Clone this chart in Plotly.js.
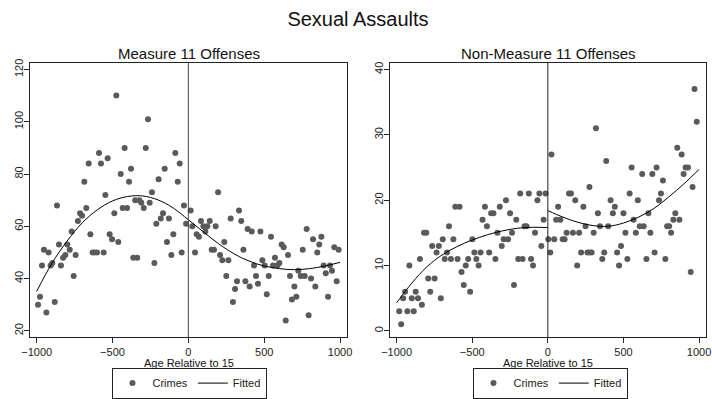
<!DOCTYPE html>
<html>
<head>
<meta charset="utf-8">
<script src="https://cdn.plot.ly/plotly-3.0.1.min.js"></script>
<style>html,body{margin:0;padding:0;background:#fff;}#chart{width:712px;height:399px;}</style>
</head>
<body>
<div id="chart"></div>
<script>
// ---- Measure 11 Offenses: binned crime counts ----
const m11X = [-991,-978,-965,-952,-936,-921,-908,-897,-881,-866,-853,-840,-826,-811,-798,-782,-769,-756,-743,-728,-714,-701,-686,-673,-657,-646,-631,-618,-602,-589,-576,-558,-547,-532,-519,-503,-488,-475,-462,-446,-433,-420,-404,-391,-378,-363,-350,-337,-323,-310,-294,-281,-266,-255,-240,-224,-211,-196,-182,-167,-156,-141,-128,-112,-99,-86,-70,-57,-44,-29,-15,
  15,26,44,55,70,83,99,112,125,141,154,169,180,196,209,224,237,250,264,279,294,308,321,334,349,363,376,391,404,418,433,446,459,475,488,503,517,530,545,558,571,587,600,615,629,642,657,670,683,699,712,725,741,754,767,780,793,809,822,837,850,863,877,892,906,921,934,947,962,978,991];
const m11Y = [30,33,45,51,27,50,45,46,31,68,53,45,48,49,53,51,58,41,49,62,65,64,77,67,84,57,50,50,50,88,84,50,72,86,57,55,65,110,54,80,67,90,67,77,82,48,70,48,70,69,67,90,101,69,73,46,61,78,63,65,82,54,63,49,57,88,77,84,50,68,61,
  66,60,50,57,56,62,60,58,60,62,51,51,60,73,49,47,54,41,47,63,31,36,39,66,62,51,39,59,37,58,45,41,38,58,47,45,34,41,56,45,48,45,46,53,52,24,49,41,32,37,33,43,41,51,41,59,26,40,55,37,50,53,56,45,42,33,45,43,52,39,51];
const m11FitX = [-1000,-900,-800,-700,-600,-500,-400,-300,-200,-100,0,100,200,300,400,500,600,700,800,900,1000];
const m11FitY = [35.1,45.8,54.3,61.3,66.3,69.7,71.4,71.6,70.1,67.0,62.5,57.8,53.3,49.5,46.7,44.8,43.8,43.4,43.8,44.8,46.2];

// ---- Non-Measure 11 Offenses ----
const nm11X = [-983,-970,-957,-944,-929,-916,-900,-887,-874,-859,-846,-833,-819,-804,-791,-778,-765,-749,-736,-721,-708,-695,-682,-667,-654,-641,-625,-612,-597,-584,-571,-556,-543,-527,-514,-499,-486,-473,-458,-445,-432,-416,-403,-388,-375,-360,-347,-334,-318,-305,-292,-277,-263,-250,-237,-224,-209,-196,-183,-167,-154,-141,-126,-111,-98,-85,-69,-56,-43,-28,-15,
  3,16,24,42,55,68,83,98,111,124,140,153,166,181,194,207,220,235,249,262,275,277,290,303,318,331,345,360,373,386,399,415,430,443,458,471,484,500,513,526,541,554,567,582,595,608,624,634,652,665,678,691,706,719,735,748,761,777,789,802,815,830,843,856,870,885,898,911,927,945,957,970,985];
const nm11Y = [3,1,5,6,3,10,5,3,6,5,11,4,15,15,8,6,13,8,12,13,5,14,11,12,16,11,14,19,11,19,9,7,10,11,6,14,12,11,10,12,17,19,16,12,18,18,11,15,19,13,14,20,14,18,15,7,17,11,21,11,16,16,21,11,10,15,20,21,13,17,21,
  14,12,27,14,17,19,17,14,14,15,21,21,15,20,10,15,12,19,16,12,22,12,12,15,31,18,16,11,12,26,16,20,18,19,12,10,13,18,15,11,21,25,17,15,20,16,24,16,11,18,15,24,12,25,20,21,23,11,16,16,15,17,18,28,17,27,24,25,25,9,22,37,32];
const nm11FitLX = [-1000,-900,-800,-700,-600,-500,-400,-300,-200,-100,0];
const nm11FitLY = [4.3,7.3,9.8,11.6,12.9,13.9,14.7,15.3,15.7,15.85,15.8];
const nm11FitRX = [0,100,200,300,400,500,600,700,800,900,1000];
const nm11FitRY = [18.4,17.4,16.6,16.1,16.0,16.5,17.4,18.7,20.5,22.5,24.7];

const xTicks = [-1000,-500,0,500,1000];
const m11YTicks = [20,40,60,80,100,120];
const nm11YTicks = [0,10,20,30,40];
const labels = {main:'Sexual Assaults', left:'Measure 11 Offenses', right:'Non-Measure 11 Offenses', xTitle:'Age Relative to 15', pts:'Crimes', fit:'Fitted'};

const FONT = 'Liberation Sans, Arial, Helvetica, sans-serif';
const ptColor = '#5a5a5a';
const mk = {color: ptColor, size: 6};
const ln = {color: '#000', width: 1, shape: 'spline'};

const traces = [
  {x:m11X, y:m11Y, type:'scatter', mode:'markers', marker:mk, name:labels.pts, xaxis:'x', yaxis:'y', legend:'legend'},
  {x:m11FitX, y:m11FitY, type:'scatter', mode:'lines', line:ln, name:labels.fit, xaxis:'x', yaxis:'y', legend:'legend'},
  {x:nm11X, y:nm11Y, type:'scatter', mode:'markers', marker:mk, name:labels.pts, xaxis:'x2', yaxis:'y2', legend:'legend2'},
  {x:nm11FitLX, y:nm11FitLY, type:'scatter', mode:'lines', line:ln, name:labels.fit, xaxis:'x2', yaxis:'y2', legend:'legend2'},
  {x:nm11FitRX, y:nm11FitRY, type:'scatter', mode:'lines', line:ln, name:labels.fit, xaxis:'x2', yaxis:'y2', legend:'legend2', showlegend:false}
];

const W = 712, H = 399;
function axX(dom, range){
  return {domain:dom, range:range, tickvals:xTicks, ticks:'outside', ticklen:5, tickcolor:'#222',
    showline:true, mirror:true, linecolor:'#222', linewidth:1, showgrid:false, zeroline:false,
    tickfont:{family:FONT, size:11, color:'#222'}, ticklabelstandoff:-1, ticklabeloverflow:'allow', fixedrange:true};
}
function axY(dom, range, tv, anchor){
  return {domain:dom, range:range, tickvals:tv, ticks:'outside', ticklen:5, tickcolor:'#222', tickangle:-90,
    showline:true, mirror:true, linecolor:'#222', linewidth:1, showgrid:false, zeroline:false, ticklabelstandoff:-3,
    tickfont:{family:FONT, size:11, color:'#222'}, anchor:anchor, fixedrange:true};
}
function legendBox(cx){
  return {orientation:'h', x:cx/W, xanchor:'center', y:1-386/H, yanchor:'middle', bordercolor:'#222', borderwidth:1, bgcolor:'rgba(255,255,255,0)',
    font:{family:FONT, size:11, color:'#222'}, tracegroupgap:0};
}
function txt(t, x, y, size){
  return {text:t, xref:'paper', yref:'paper', x:x/W, y:1-y/H, xanchor:'center', yanchor:'middle', showarrow:false, font:{family:FONT, size:size, color:'#111'}};
}
const yDom = [1-340/H, 1-63/H];
const layout = {
  width:W, height:H, margin:{l:0,r:0,t:0,b:0}, paper_bgcolor:'#fff', plot_bgcolor:'#fff',
  showlegend:true, hovermode:false,
  title:{text:labels.main, font:{family:FONT, size:20, color:'#111'}, x:358/W, xanchor:'center', y:1-19/H, yanchor:'middle'},
  xaxis: axX([30/W, 347/W], [-1044, 1046]),
  yaxis: axY(yDom, [17.47, 122.66], m11YTicks, 'x'),
  xaxis2: Object.assign(axX([390/W, 706/W], [-1044, 1046]), {anchor:'y2'}),
  yaxis2: axY(yDom, [-1.01, 41.06], nm11YTicks, 'x2'),
  annotations:[
    txt(labels.left, 189, 53.5, 15),
    txt(labels.right, 548, 53.5, 15),
    txt(labels.xTitle, 188.5, 366, 11),
    txt(labels.xTitle, 548, 366, 11)
  ],
  shapes:[
    {type:'line', xref:'x', yref:'y domain', x0:0, x1:0, y0:0, y1:1, line:{color:'#444', width:1}},
    {type:'line', xref:'x2', yref:'y2 domain', x0:0, x1:0, y0:0, y1:1, line:{color:'#222', width:1}}
  ],
  legend: legendBox(189),
  legend2: legendBox(550)
};
Plotly.newPlot('chart', traces, layout, {displayModeBar:false, staticPlot:true});
</script>
</body>
</html>
